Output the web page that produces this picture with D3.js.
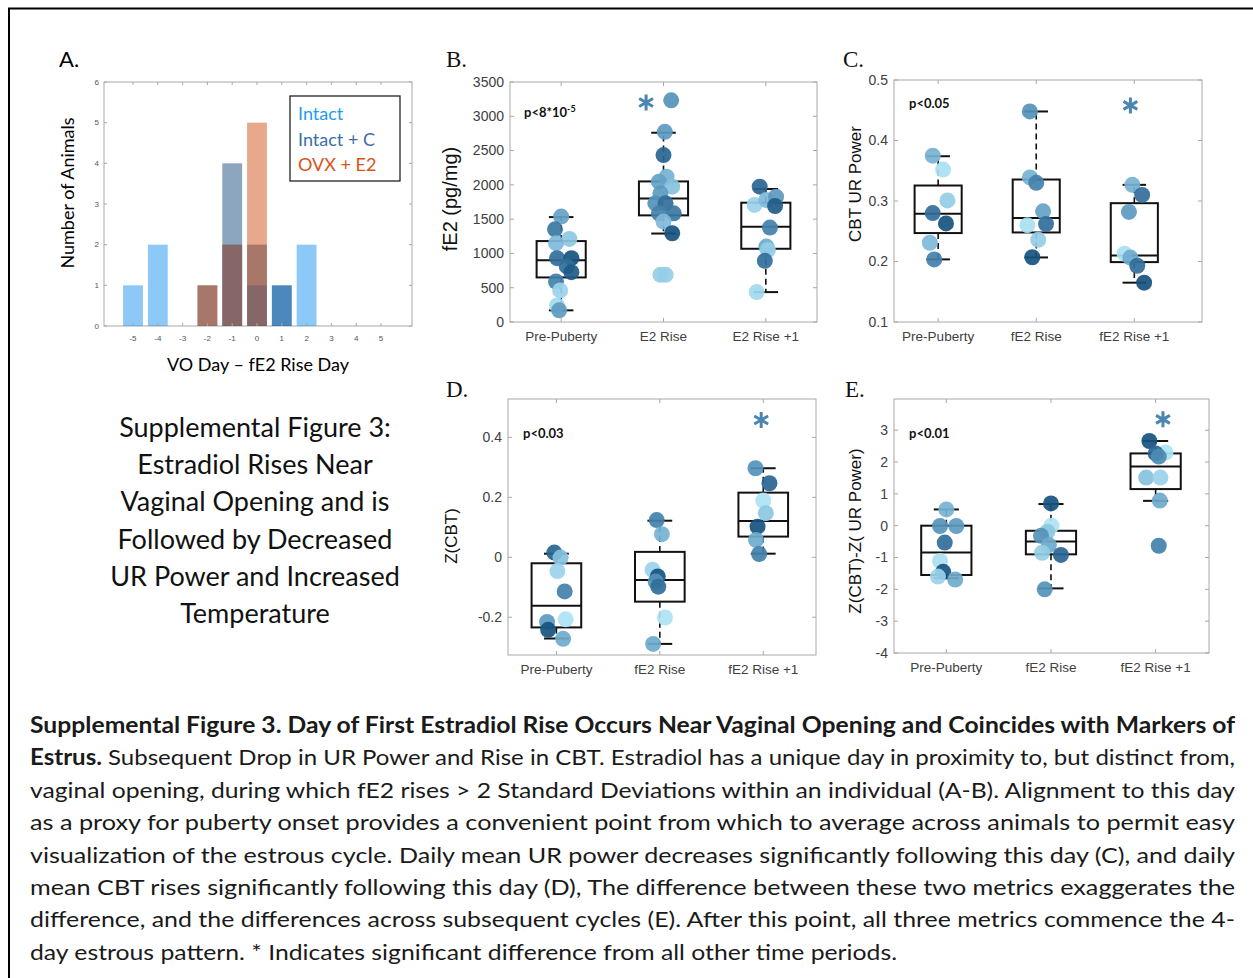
<!DOCTYPE html>
<html><head><meta charset="utf-8">
<script src="https://cdn.jsdelivr.net/npm/d3@7"></script>
<style>body{margin:0;background:#fff}svg{display:block}</style>
</head><body><svg id="c" width="1253" height="978"></svg>
<script>
// ---------------- DATA ----------------
const histDays = [-5,-4,-3,-2,-1,0,1,2,3,4,5];
const histYTicks = [0,1,2,3,4,5,6];
const intactCounts  = [1,2,0,0,2,1,1,2,0,0,0];
const intactCCounts = [0,0,0,1,4,2,1,0,0,0,0];
const ovxCounts     = [0,0,0,1,2,5,0,0,0,0,0];
const legendLabels = ["Intact","Intact + C","OVX + E2"];

const groupsB = ["Pre-Puberty","E2 Rise","E2 Rise +1"];
const groupsCDE = ["Pre-Puberty","fE2 Rise","fE2 Rise +1"];

const bTicks = [0,500,1000,1500,2000,2500,3000,3500];
const cTicks = [0.1,0.2,0.3,0.4,0.5];
const dTicks = [-0.2,0,0.2,0.4];
const eTicks = [-4,-3,-2,-1,0,1,2,3];

// box stats: [lower whisker, q1, median, q3, upper whisker]
const bBox = [[170,650,900,1180,1530],[1290,1555,1800,2050,2760],[436,1068,1390,1740,1940]];
const cBox = [[0.2035,0.247,0.279,0.3256,0.374],[0.2067,0.248,0.272,0.3355,0.448],[0.165,0.199,0.210,0.2964,0.3267]];
const dBox = [[-0.271,-0.234,-0.162,-0.02,0.012],[-0.289,-0.148,-0.076,0.018,0.122],[0.012,0.069,0.121,0.2156,0.297]];
const eBox = [[-1.65,-1.55,-0.84,0,0.51],[-1.97,-0.90,-0.50,-0.16,0.68],[0.78,1.15,1.86,2.27,2.66]];

// points: [value, jitter (category units), shade 0=light..1=dark]
const bPre = [[1537,0,0.5],[1352,-0.06,0.75],[1212,0.08,0.25],[1149,-0.05,0.35],[931,-0.04,0.8],[931,0.1,0.95],[810,0.055,0.8],[727,0.1,0.9],[591,-0.05,0.7],[460,-0.01,0.15],[242,-0.04,0.1],[170,-0.02,0.55]];
const bRise = [[3233,0.075,0.6],[2773,0.013,0.55],[2434,0,0.85],[2118,0.03,0.4],[2046,-0.045,0.5],[1973,0.085,0.3],[1876,-0.03,0.55],[1731,-0.08,0.6],[1731,0.02,0.8],[1585,-0.045,0.7],[1585,0.1,0.75],[1464,0,0.35],[1294,0.085,0.95],[688,-0.03,0.2],[688,0.02,0.2]];
const bRise1 = [[1973,-0.06,0.85],[1707,-0.11,0.15],[1779,0.005,0.35],[1828,0.1,0.55],[1692,0.09,0.9],[1377,0.04,0.7],[1100,0.005,0.45],[1050,0.02,0.2],[892,-0.01,0.8],[436,-0.09,0.1]];

const cPre = [[0.375,-0.055,0.4],[0.352,0.05,0.05],[0.301,0.095,0.2],[0.280,-0.055,0.8],[0.263,0.08,0.95],[0.231,-0.085,0.35],[0.2035,-0.04,0.7]];
const cRise = [[0.448,-0.065,0.6],[0.339,-0.065,0.4],[0.330,0,0.7],[0.283,0.07,0.5],[0.260,-0.09,0.05],[0.262,0.1,0.8],[0.236,0.02,0.2],[0.207,-0.04,0.95]];
const cRise1 = [[0.3267,-0.02,0.4],[0.310,0.08,0.8],[0.282,-0.055,0.55],[0.213,-0.1,0.05],[0.2065,-0.04,0.45],[0.193,0.03,0.8],[0.165,0.1,0.95]];

const dPre = [[0.0156,-0.02,0.85],[-0.001,0.04,0.3],[-0.046,0.01,0.15],[-0.114,0.08,0.7],[-0.207,0.09,0.02],[-0.216,-0.09,0.55],[-0.242,-0.08,0.95],[-0.272,0.065,0.45]];
const dRise = [[0.124,-0.03,0.7],[0.077,0.02,0.4],[-0.042,-0.07,0.15],[-0.064,-0.02,0.95],[-0.081,-0.04,0.6],[-0.098,-0.015,0.8],[-0.201,0.05,0.02],[-0.289,-0.065,0.45]];
const dRise1 = [[0.297,-0.075,0.6],[0.247,0.06,0.85],[0.189,0,0.02],[0.147,0.025,0.25],[0.102,-0.055,0.95],[0.058,-0.07,0.45],[0.011,-0.04,0.7]];

const ePre = [[0.51,0,0.4],[-0.01,-0.06,0.6],[-0.01,0.095,0.55],[-0.53,-0.015,0.8],[-1.11,-0.06,0.05],[-1.45,-0.03,0.95],[-1.60,-0.08,0.15],[-1.69,0.085,0.45]];
const eRise = [[0.70,0,0.95],[0.0,0.005,0.02],[-0.19,-0.035,0.25],[-0.32,-0.095,0.6],[-0.61,-0.02,0.45],[-0.85,-0.085,0.2],[-0.92,0.095,0.85],[-2.0,-0.06,0.6]];
const eRise1 = [[2.66,-0.06,0.95],[2.30,0.095,0.02],[2.27,0,0.85],[2.17,0.03,0.65],[1.51,-0.09,0.3],[1.51,0.045,0.15],[0.79,0.04,0.45],[-0.63,0.03,0.7]];

const titleLines = ["Supplemental Figure 3:","Estradiol Rises Near","Vaginal Opening and is","Followed by Decreased","UR Power and Increased","Temperature"];
const captionLines = [
 [["Supplemental Figure 3. Day of First Estradiol Rise Occurs Near Vaginal Opening and Coincides with Markers of",true]],
 [["Estrus.",true],[" Subsequent Drop in UR Power and Rise in CBT. Estradiol has a unique day in proximity to, but distinct from,",false]],
 [["vaginal opening, during which fE2 rises > 2 Standard Deviations within an individual (A-B). Alignment to this day",false]],
 [["as a proxy for puberty onset provides a convenient point from which to average across animals to permit easy",false]],
 [["visualization of the estrous cycle. Daily mean UR power decreases significantly following this day (C), and daily",false]],
 [["mean CBT rises significantly following this day (D), The difference between these two metrics exaggerates the",false]],
 [["difference, and the differences across subsequent cycles (E). After this point, all three metrics commence the 4-",false]],
 [["day estrous pattern. * Indicates significant difference from all other time periods.",false]]
];

// ---------------- DRAW ----------------
const svg = d3.select("#c");
const SANS = "'Liberation Sans', Arial, sans-serif";
const CAL = "Lato, 'Open Sans', sans-serif";
const SERIF = "'Liberation Serif', 'DejaVu Serif', serif";
const frameCol = "#a8a8a8", tickTxt = "#404040";

svg.append("rect").attr("x",9).attr("y",8.5).attr("width",1270).attr("height",1000)
  .attr("fill","none").attr("stroke","#000").attr("stroke-width",2);

// ---- Panel A ----
(function(){
  const x0=104,x1=412,y0=82,y1=326;
  const x = d3.scaleLinear().domain([-6.17,6.25]).range([x0,x1]);
  const y = d3.scaleLinear().domain([0,6]).range([y1,y0]);
  const g = svg.append("g");
  g.append("rect").attr("x",x0).attr("y",y0).attr("width",x1-x0).attr("height",y1-y0)
    .attr("fill","#fff").attr("stroke",frameCol).attr("stroke-width",1);
  const series = [
    {counts:intactCounts,color:"rgb(0,133,240)"},
    {counts:intactCCounts,color:"rgb(0,58,115)"},
    {counts:ovxCounts,color:"rgb(204,62,0)"}
  ];
  series.forEach(s=>{
    g.selectAll(null).data(histDays.map((d,i)=>({d,c:s.counts[i]})).filter(e=>e.c>0)).enter()
      .append("rect")
      .attr("x",e=>x(e.d-0.4)).attr("width",x(0.4)-x(-0.4))
      .attr("y",e=>y(e.c)).attr("height",e=>y(0)-y(e.c))
      .attr("fill",s.color).attr("fill-opacity",0.45);
  });
  histYTicks.forEach(t=>{
    g.append("line").attr("x1",x0).attr("x2",x0+3).attr("y1",y(t)).attr("y2",y(t)).attr("stroke",frameCol);
    g.append("line").attr("x1",x1).attr("x2",x1-3).attr("y1",y(t)).attr("y2",y(t)).attr("stroke",frameCol);
    g.append("text").attr("x",x0-5).attr("y",y(t)).attr("dy","0.35em").attr("text-anchor","end")
      .attr("font-family",SANS).attr("font-size",8).attr("fill","#555").text(t);
  });
  histDays.forEach(t=>{
    g.append("line").attr("x1",x(t)).attr("x2",x(t)).attr("y1",y1).attr("y2",y1-3).attr("stroke",frameCol);
    g.append("line").attr("x1",x(t)).attr("x2",x(t)).attr("y1",y0).attr("y2",y0+3).attr("stroke",frameCol);
    g.append("text").attr("x",x(t)).attr("y",y1+15).attr("text-anchor","middle")
      .attr("font-family",SANS).attr("font-size",8).attr("fill","#555").text(t);
  });
  // legend
  g.append("rect").attr("x",290).attr("y",96).attr("width",110).attr("height",85)
    .attr("fill","#fff").attr("stroke","#222").attr("stroke-width",1.3);
  const lc = ["#1f9bf0","#3d6ea6","#d9541a"];
  legendLabels.forEach((l,i)=>{
    g.append("text").attr("x",298).attr("y",120+i*25.5).attr("font-family",CAL).attr("font-size",18)
      .attr("fill",lc[i]).text(l);
  });
  g.append("text").attr("transform","translate(68,193) rotate(-90)").attr("dy","0.35em")
    .attr("text-anchor","middle").attr("font-family",CAL).attr("font-size",18).text("Number of Animals");
  g.append("text").attr("x",258).attr("y",371).attr("text-anchor","middle")
    .attr("font-family",CAL).attr("font-size",18).text("VO Day \u2013 fE2 Rise  Day");
  g.append("text").attr("x",59).attr("y",67).attr("font-family",CAL).attr("font-size",22).text("A.");
})();

const shade = d3.scaleLinear().domain([0,0.33,0.66,1]).range(["#b0e5f6","#82bddb","#4a89b2","#0d4877"]);

function asteriskPath(cx,cy,r){
  let p="";
  [90,30,150].forEach(a=>{
    const rad=a*Math.PI/180, dx=r*Math.cos(rad), dy=r*Math.sin(rad);
    p+=`M${cx-dx},${cy-dy}L${cx+dx},${cy+dy}`;
  });
  return p;
}

function boxPanel(o){
  const x = d3.scaleLinear().domain(o.xDomain).range([o.x0,o.x1]);
  const y = d3.scaleLinear().domain(o.yDomain).range([o.y1,o.y0]);
  const g = svg.append("g");
  g.append("rect").attr("x",o.x0).attr("y",o.y0).attr("width",o.x1-o.x0).attr("height",o.y1-o.y0)
    .attr("fill","#fff").attr("stroke",frameCol).attr("stroke-width",1);
  o.yTicks.forEach(t=>{
    g.append("line").attr("x1",o.x0).attr("x2",o.x0+4).attr("y1",y(t)).attr("y2",y(t)).attr("stroke",frameCol);
    g.append("line").attr("x1",o.x1).attr("x2",o.x1-4).attr("y1",y(t)).attr("y2",y(t)).attr("stroke",frameCol);
    g.append("text").attr("x",o.x0-6).attr("y",y(t)).attr("dy","0.35em").attr("text-anchor","end")
      .attr("font-family",SANS).attr("font-size",14).attr("fill",tickTxt).text(o.fmt(t));
  });
  o.groups.forEach((lab,i)=>{
    const cx = x(i+1);
    g.append("line").attr("x1",cx).attr("x2",cx).attr("y1",o.y1).attr("y2",o.y1-4).attr("stroke",frameCol);
    g.append("line").attr("x1",cx).attr("x2",cx).attr("y1",o.y0).attr("y2",o.y0+4).attr("stroke",frameCol);
    g.append("text").attr("x",cx).attr("y",o.y1+19).attr("text-anchor","middle")
      .attr("font-family",SANS).attr("font-size",13.5).attr("fill",tickTxt).text(lab);
  });
  const hw=0.24, cw=0.12;
  o.box.forEach((b,i)=>{
    const c=i+1;
    g.append("line").attr("x1",x(c)).attr("x2",x(c)).attr("y1",y(b[3])).attr("y2",y(b[4]))
      .attr("stroke","#111").attr("stroke-width",1.6).attr("stroke-dasharray","6,4");
    g.append("line").attr("x1",x(c)).attr("x2",x(c)).attr("y1",y(b[1])).attr("y2",y(b[0]))
      .attr("stroke","#111").attr("stroke-width",1.6).attr("stroke-dasharray","6,4");
    [b[0],b[4]].forEach(v=>g.append("line").attr("x1",x(c-cw)).attr("x2",x(c+cw)).attr("y1",y(v)).attr("y2",y(v))
      .attr("stroke","#111").attr("stroke-width",2));
    g.append("rect").attr("x",x(c-hw)).attr("width",x(c+hw)-x(c-hw)).attr("y",y(b[3])).attr("height",y(b[1])-y(b[3]))
      .attr("fill","none").attr("stroke","#111").attr("stroke-width",2);
    g.append("line").attr("x1",x(c-hw)).attr("x2",x(c+hw)).attr("y1",y(b[2])).attr("y2",y(b[2]))
      .attr("stroke","#111").attr("stroke-width",2);
  });
  o.points.forEach((arr,i)=>{
    g.selectAll(null).data(arr).enter().append("circle")
      .attr("cx",p=>x(i+1+p[1])).attr("cy",p=>y(p[0])).attr("r",8)
      .attr("fill",p=>shade(p[2])).attr("fill-opacity",0.92);
  });
  g.append("path").attr("d",asteriskPath(x(o.star[0]),y(o.star[1]),8))
    .attr("stroke","#4a86b0").attr("stroke-width",3).attr("fill","none");
  const pt = g.append("text").attr("x",o.p[0]).attr("y",o.p[1]).attr("font-family",CAL)
    .attr("font-weight","bold").attr("font-size",13).attr("fill","#111");
  pt.append("tspan").text(o.pText);
  if(o.pSup) pt.append("tspan").attr("dy",-5).attr("font-size",9).text(o.pSup);
  g.append("text").attr("transform",`translate(${o.yl[0]},${o.yl[1]}) rotate(-90)`).attr("dy","0.35em")
    .attr("text-anchor","middle").attr("font-family",SANS).attr("font-size",o.ylSize||17).attr("fill","#111").text(o.ylabel);
  g.append("text").attr("x",o.letter[1]).attr("y",o.letter[2]).attr("font-family",SERIF)
    .attr("font-size",23).attr("fill","#111").text(o.letter[0]);
}

boxPanel({x0:510,x1:817,y0:82,y1:322,xDomain:[0.5,3.5],yDomain:[0,3500],yTicks:bTicks,fmt:d=>d,
  groups:groupsB,box:bBox,points:[bPre,bRise,bRise1],star:[1.83,3200],p:[524,117],pText:"p<8*10",pSup:"-5",
  ylabel:"fE2 (pg/mg)",ylSize:20,yl:[450,199],letter:["B.",446,67]});
boxPanel({x0:894,x1:1202,y0:80,y1:322,xDomain:[0.55,3.69],yDomain:[0.1,0.5],yTicks:cTicks,fmt:d=>d.toFixed(1),
  groups:groupsCDE,box:cBox,points:[cPre,cRise,cRise1],star:[2.96,0.458],p:[909,108],pText:"p<0.05",
  ylabel:"CBT UR Power",yl:[855,184],letter:["C.",843,67]});
boxPanel({x0:508,x1:816,y0:399,y1:655,xDomain:[0.532,3.51],yDomain:[-0.326,0.528],yTicks:dTicks,fmt:d=>d===0?"0":d.toFixed(1),
  groups:groupsCDE,box:dBox,points:[dPre,dRise,dRise1],star:[2.98,0.458],p:[523,438],pText:"p<0.03",
  ylabel:"Z(CBT)",yl:[451,536],letter:["D.",446,397]});
boxPanel({x0:894,x1:1209,y0:399,y1:653,xDomain:[0.5,3.51],yDomain:[-4,3.98],yTicks:eTicks,fmt:d=>d,
  groups:groupsCDE,box:eBox,points:[ePre,eRise,eRise1],star:[3.07,3.34],p:[909,438],pText:"p<0.01",
  ylabel:"Z(CBT)-Z( UR Power)",yl:[855,531],letter:["E.",845,397]});

// ---- left title ----
titleLines.forEach((l,i)=>{
  svg.append("text").attr("x",255).attr("y",437+i*37.2).attr("text-anchor","middle")
    .attr("font-family",CAL).attr("font-size",27).attr("fill","#111").text(l);
});

// ---- caption ----
captionLines.forEach((parts,i)=>{
  const t = svg.append("text").attr("x",30).attr("y",733+i*32.4)
    .attr("font-family",CAL).attr("font-size",22).attr("fill","#1a1a1a")
    .attr("textLength", i===7 ? 867 : 1205).attr("lengthAdjust","spacingAndGlyphs");
  parts.forEach(p=>t.append("tspan").attr("font-weight",p[1]?"bold":"normal").text(p[0]));
});
</script></body></html>
